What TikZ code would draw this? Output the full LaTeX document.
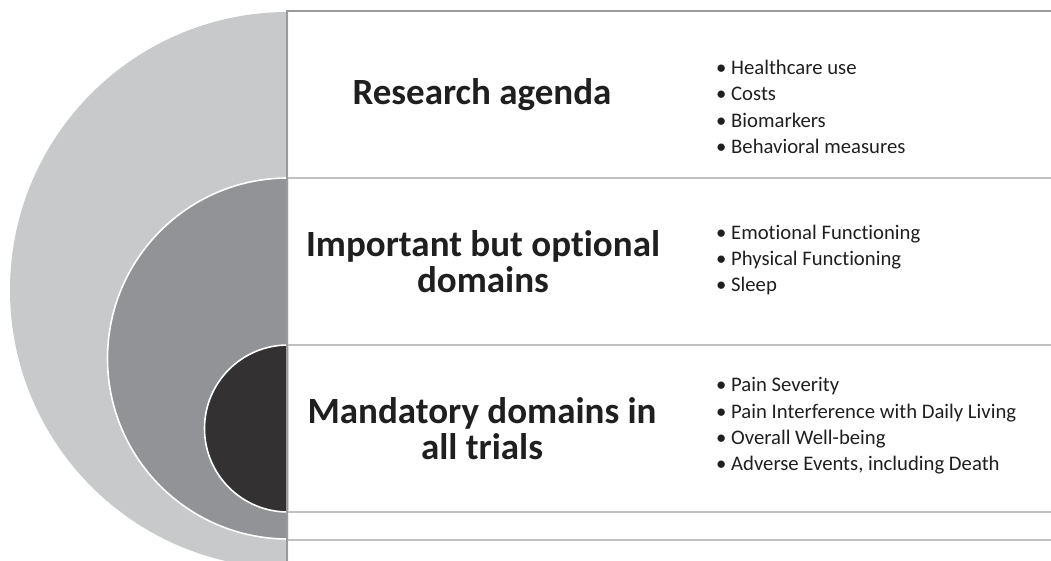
\documentclass[tikz,border=0pt]{standalone}
\usepackage{fontspec}
\setmainfont{Carlito}[Ligatures={NoCommon}]
\usetikzlibrary{positioning}
\definecolor{ringlight}{RGB}{200,201,203}
\definecolor{ringmid}{RGB}{146,147,150}
\definecolor{ringdark}{RGB}{51,49,50}
\definecolor{rulegray}{RGB}{192,192,192}
\definecolor{edgegray}{RGB}{155,155,157}
\begin{document}
\begin{tikzpicture}[x=1pt, y=-1pt,
  titolo/.style={font=\fontsize{37}{36}\selectfont\bfseries, align=center, text=black!88},
  elenco/.style={font=\fontsize{20.7}{26.3}\selectfont, align=left, anchor=west, text=black!88, inner sep=0pt},
  riga/.style={rulegray, line width=2pt}]
\useasboundingbox (0,0) rectangle (1051,561);
% semicerchi concentrici a sinistra
\begin{scope}
  \clip (0,0) rectangle (288,561);
  \fill[ringlight] (288,290) circle (278);
  \filldraw[ringmid, draw=white, line width=1.6pt] (288,358.5) circle (180.5);
  \filldraw[ringdark, draw=white, line width=1.6pt] (288,428.5) circle (83.5);
\end{scope}
\draw[riga] (288,178) -- (1051,178);
\draw[riga] (288,345) -- (1051,345);
\draw[riga] (288,512) -- (1051,512);
\draw[riga] (288,540) -- (1051,540);
\draw[edgegray, line width=2pt] (287,11.5) -- (1051,11.5);
\draw[edgegray, line width=2pt] (287,10.5) -- (287,561);
\node[titolo] (ricerca) at (482,95) {Research agenda};
\node[titolo] (opzionali) at (483,262) {Important but optional\\domains};
\node[titolo] (obbligatori) at (482,429) {Mandatory domains in\\all trials};
\newcommand{\voce}[1]{\makebox[15pt][l]{•}#1}
\node[elenco] (lista1) at (716,107) {\voce{Healthcare use}\\\voce{Costs}\\\voce{Biomarkers}\\\voce{Behavioral measures}};
\node[elenco] (lista2) at (716,260) {\voce{Emotional Functioning}\\\voce{Physical Functioning}\\\voce{Sleep}};
\node[elenco] (lista3) at (716,426) {\voce{Pain Severity}\\\voce{Pain Interference with Daily Living}\\\voce{Overall Well-being}\\\voce{Adverse Events, including Death}};
\end{tikzpicture}
\end{document}
